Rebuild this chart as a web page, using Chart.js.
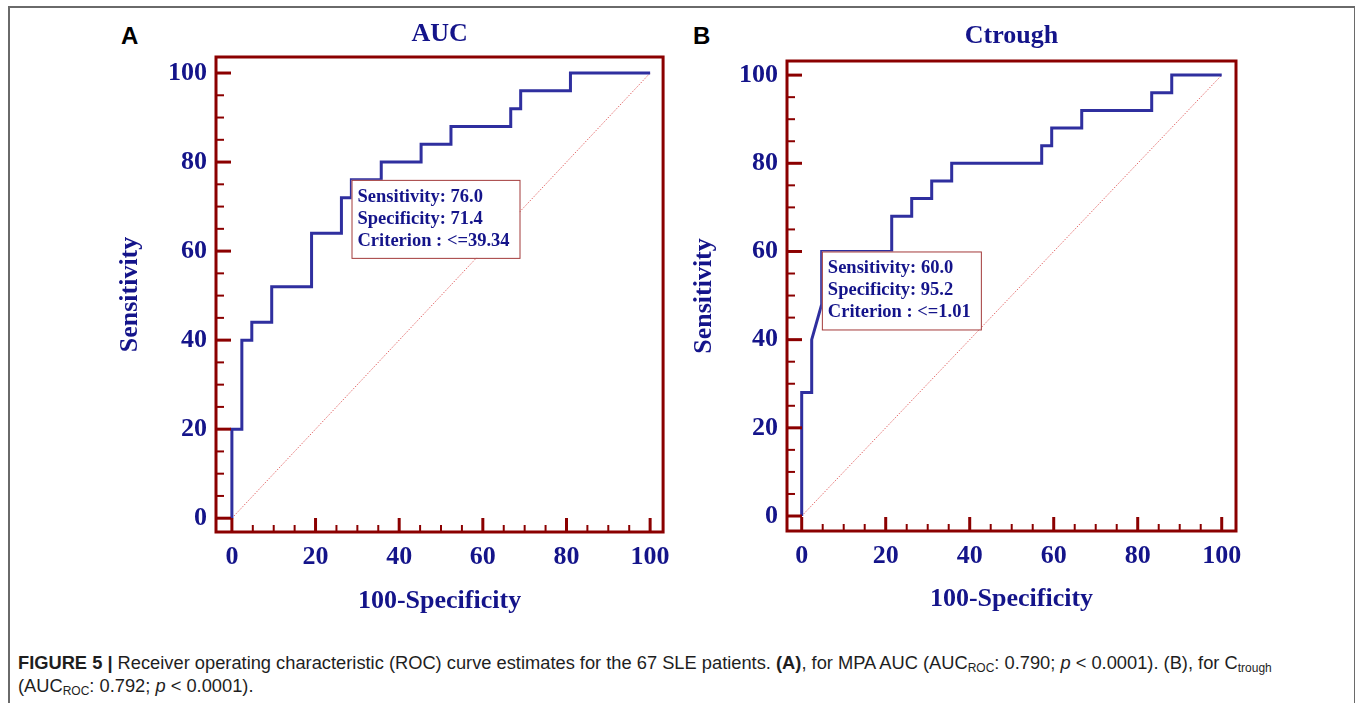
<!DOCTYPE html>
<html lang="en">
<head>
<meta charset="utf-8">
<script src="https://cdn.jsdelivr.net/npm/chart.js@4.4.1/dist/chart.umd.min.js"></script>
<style>
    body {margin:0; background:#fff; width:1356px; height:703px; overflow:hidden; position:relative}
    .frame {position:absolute; left:8px; top:6px; width:1344px; height:720px; border:1px solid #6a6a6a; border-width:2px 1px 0 2px}
    canvas {position:absolute; top:0}
    .letter {position:absolute; font:bold 24px "Liberation Sans", Arial, sans-serif; color:#000}
    .caption {position:absolute; left:18px; top:651px; width:1330px; font:18.3px "Liberation Sans", Arial, sans-serif; line-height:23px; color:#1e1e1e; white-space:nowrap}
    .caption sub {font-size:12px; vertical-align:-3px; line-height:0}
</style>
</head>
<body>

<div class="frame"></div>
<div class="letter" style="left:121px; top:22px">A</div>
<div class="letter" style="left:693px; top:22px">B</div>
<canvas id="chartA" width="680" height="625" style="left:0"></canvas>
<canvas id="chartB" width="676" height="625" style="left:680px"></canvas>
<div class="caption"><b>FIGURE 5 |</b> Receiver operating characteristic (ROC) curve estimates for the 67 SLE patients. <b>(A)</b>, for MPA AUC (AUC<sub>ROC</sub>: 0.790; <i>p</i> &lt; 0.0001). (B), for C<sub>trough</sub><br>(AUC<sub>ROC</sub>: 0.792; <i>p</i> &lt; 0.0001).</div>

<script type="text/javascript">
'use strict';

// ROC curve vertices (100-Specificity, Sensitivity)
var fprA = [0, 0, 2.38, 2.38, 4.76, 4.76, 9.52, 9.52, 19.05, 19.05, 26.19, 26.19, 28.57, 28.57, 35.71, 35.71, 45.24, 45.24, 52.38, 52.38, 66.67, 66.67, 69.05, 69.05, 80.95, 80.95, 100];
var tprA = [0, 20, 20, 40, 40, 44, 44, 52, 52, 64, 64, 72, 72, 76, 76, 80, 80, 84, 84, 88, 88, 92, 92, 96, 96, 100, 100];

var fprB = [0, 0, 2.38, 2.38, 4.76, 4.76, 21.43, 21.43, 26.19, 26.19, 30.95, 30.95, 35.71, 35.71, 57.14, 57.14, 59.52, 59.52, 66.67, 66.67, 83.33, 83.33, 88.1, 88.1, 100];
var tprB = [0, 28, 28, 40, 48, 60, 60, 68, 68, 72, 72, 76, 76, 80, 80, 84, 84, 88, 88, 92, 92, 96, 96, 100, 100];

// reference diagonal
var diagX = [0, 100];
var diagY = [0, 100];

// optimal criterion for each curve
var critA = {sens: 76.0, spec: 71.4, crit: '<=39.34'};
var critB = {sens: 60.0, spec: 95.2, crit: '<=1.01'};

var tickLabels = [0, 20, 40, 60, 80, 100];
var minorTicks = [0, 5, 10, 15, 20, 25, 30, 35, 40, 45, 50, 55, 60, 65, 70, 75, 80, 85, 90, 95, 100];

var NAVY = '#14148a';
var CURVE = '#2f2f9f';
var DARKRED = '#8b0000';
var SERIF = '"Liberation Serif", "Times New Roman", serif';

function pts(xs, ys) {
    return xs.map(function (x, i) { return {x: x, y: ys[i]}; });
}

// frame, inward tick marks, panel title and criterion box
var rocDecor = {
    id: 'rocDecor',
    afterDatasetsDraw: function (chart, args, opts) {
        var ctx = chart.ctx, xs = chart.scales.x, ys = chart.scales.y;
        var c = opts.crit;
        var lines = ['Sensitivity: ' + c.sens.toFixed(1), 'Specificity: ' + c.spec.toFixed(1), 'Criterion : ' + c.crit];
        var px = xs.getPixelForValue(100 - c.spec);
        var py = ys.getPixelForValue(c.sens);
        ctx.save();
        ctx.font = 'bold 18.5px ' + SERIF;
        var w = 0;
        lines.forEach(function (l) { w = Math.max(w, ctx.measureText(l).width); });
        w = Math.round(w + 16);
        ctx.fillStyle = '#fff';
        ctx.fillRect(px, py, w, 78);
        ctx.strokeStyle = '#a33a3a';
        ctx.lineWidth = 1;
        ctx.strokeRect(px + 0.5, py + 0.5, w, 78);
        ctx.fillStyle = NAVY;
        ctx.textBaseline = 'middle';
        lines.forEach(function (l, i) { ctx.fillText(l, px + 6, py + 17 + 22 * i); });
        ctx.restore();
    },
    afterDraw: function (chart, args, opts) {
        var ctx = chart.ctx, a = chart.chartArea, xs = chart.scales.x, ys = chart.scales.y;
        ctx.save();
        ctx.strokeStyle = DARKRED;
        minorTicks.forEach(function (v) {
            var major = v % 20 === 0;
            ctx.lineWidth = major ? 3 : 2;
            var y = ys.getPixelForValue(v);
            ctx.beginPath();
            ctx.moveTo(a.left, y);
            ctx.lineTo(a.left + (major ? 15 : 8), y);
            ctx.stroke();
            var x = xs.getPixelForValue(v);
            ctx.beginPath();
            ctx.moveTo(x, a.bottom);
            ctx.lineTo(x, a.bottom - (major ? 14 : 7));
            ctx.stroke();
        });
        ctx.lineWidth = 3;
        ctx.strokeRect(a.left, a.top, a.right - a.left, a.bottom - a.top);
        ctx.fillStyle = NAVY;
        ctx.font = 'bold 26px ' + SERIF;
        ctx.textAlign = 'center';
        ctx.textBaseline = 'middle';
        ctx.fillText(opts.title, (a.left + a.right) / 2, a.top - opts.titleGap);
        ctx.restore();
    }
};

function makeChart(id, fpr, tpr, crit, g) {
    var tickFont = {family: SERIF, weight: 'bold', size: 26};
    return new Chart(document.getElementById(id), {
        type: 'scatter',
        data: {
            datasets: [
                {data: pts(fpr, tpr), showLine: true, borderColor: CURVE, borderWidth: 3, pointRadius: 0, tension: 0, borderJoinStyle: 'miter', order: 1},
                {data: pts(diagX, diagY), showLine: true, borderColor: '#e36b6b', borderWidth: 1, borderDash: [1.5, 1.5], pointRadius: 0, order: 2}
            ]
        },
        options: {
            responsive: false,
            animation: false,
            devicePixelRatio: 1,
            layout: {padding: {left: 0, top: g.top, right: g.right, bottom: 0}},
            plugins: {
                legend: {display: false},
                tooltip: {enabled: false},
                rocDecor: {title: g.title, titleGap: g.titleGap, crit: crit}
            },
            scales: {
                x: {
                    type: 'linear', min: g.xmin, max: g.xmax,
                    grid: {display: false, drawTicks: false},
                    border: {display: false},
                    afterBuildTicks: function (s) { s.ticks = tickLabels.map(function (v) { return {value: v}; }); },
                    afterFit: function (s) { s.height = g.xh; },
                    ticks: {font: tickFont, color: NAVY, padding: 10, maxRotation: 0},
                    title: {display: true, text: '100-Specificity', font: tickFont, color: NAVY, padding: {top: 0, bottom: g.xtPad}}
                },
                y: {
                    type: 'linear', min: g.ymin, max: g.ymax,
                    grid: {display: false, drawTicks: false},
                    border: {display: false},
                    afterBuildTicks: function (s) { s.ticks = tickLabels.map(function (v) { return {value: v}; }); },
                    afterFit: function (s) { s.width = g.yw; },
                    ticks: {font: tickFont, color: NAVY, padding: 9},
                    title: {display: true, text: 'Sensitivity', font: tickFont, color: NAVY, padding: {top: g.ytPad, bottom: 0}}
                }
            }
        },
        plugins: [rocDecor]
    });
}

window.onload = function () {
    makeChart('chartA', fprA, tprA, critA, {
        title: 'AUC', titleGap: 23, top: 57, right: 13, yw: 216, xh: 93,
        xmin: -3.8, xmax: 103.1, ymin: -3.1, ymax: 103.6, xtPad: 8, ytPad: 115
    });
    makeChart('chartB', fprB, tprB, critB, {
        title: 'Ctrough', titleGap: 25, top: 61, right: 120, yw: 107, xh: 94,
        xmin: -3.5, xmax: 103.4, ymin: -3.4, ymax: 103.2, xtPad: 10, ytPad: 9
    });
};
</script>
</body>
</html>
